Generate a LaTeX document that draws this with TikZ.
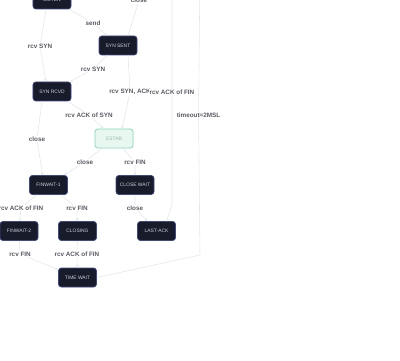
\documentclass[tikz,border=0pt]{standalone}
\usepackage{fontspec}
\setmainfont{Liberation Sans}
\usetikzlibrary{arrows.meta,positioning}
\definecolor{stNavy}{RGB}{24,28,42}
\definecolor{stRim}{RGB}{62,72,140}
\definecolor{stText}{RGB}{205,208,218}
\definecolor{estFill}{RGB}{232,248,241}
\definecolor{estRim}{RGB}{128,214,178}
\definecolor{estText}{RGB}{150,186,172}
\definecolor{connG}{RGB}{226,229,234}
\definecolor{lblG}{RGB}{90,90,100}

\begin{document}
\begin{tikzpicture}[x=0.25mm,y=-0.25mm,
  stbox/.style={draw=stRim, fill=stNavy, line width=0.5pt, rounded corners=2pt,
    minimum width=9.5mm, minimum height=4.75mm, inner sep=0pt, text=stText,
    font=\fontsize{3.5}{4}\selectfont},
  estabbox/.style={stbox, draw=estRim, fill=estFill, text=estText},
  conn/.style={draw=connG, line width=0.4pt, -{Stealth[length=2pt,width=2pt]}},
  lbl/.style={fill=white, inner sep=0.4pt, text=lblG, font=\fontsize{4.5}{5}\selectfont\bfseries}]

  % frame of the picture (pixel units, y pointing down)
  \useasboundingbox (0,0) rectangle (400,361);
  \clip (0,0) rectangle (400,361);

  % states
  \node[stbox] (listen) at (52,-0.5) {LISTEN};
  \node[stbox] (synsent) at (118,45.5) {SYN SENT};
  \node[stbox] (synrcvd) at (52,91.5) {SYN RCVD};
  \node[estabbox] (estab) at (114,138.5) {ESTAB};
  \node[stbox] (fw1) at (48.5,185) {FINWAIT-1};
  \node[stbox] (closewait) at (135,185) {CLOSE WAIT};
  \node[stbox] (fw2) at (19,231) {FINWAIT-2};
  \node[stbox] (closing) at (77.5,231) {CLOSING};
  \node[stbox] (lastack) at (156.5,231) {LAST-ACK};
  \node[stbox] (timewait) at (77.5,277.5) {TIME WAIT};

  % ends that leave the picture at the top
  \coordinate (upA) at (139,-30);
  \coordinate (upB) at (172,-30);
  \coordinate (upC) at (200,-30);

  % transition labels
  \node[lbl] (lSend) at (93,23) {send};
  \node[lbl] (lRcvSynA) at (40,46) {rcv SYN};
  \node[lbl] (lRcvSynB) at (93,69) {rcv SYN};
  \node[lbl] (lCloseA) at (139,0.5) {close};
  \node[lbl] (lSynAck) at (130,92) {rcv SYN, ACK};
  \node[lbl] (lAckFinA) at (172,92) {rcv ACK of FIN};
  \node[lbl] (lTimeout) at (198.5,115) {timeout=2MSL};
  \node[lbl] (lAckSyn) at (89,115) {rcv ACK of SYN};
  \node[lbl] (lCloseB) at (37,139) {close};
  \node[lbl] (lCloseC) at (85,162) {close};
  \node[lbl] (lRcvFinA) at (135,162) {rcv FIN};
  \node[lbl] (lAckFinB) at (21,208) {rcv ACK of FIN};
  \node[lbl] (lRcvFinB) at (77,208) {rcv FIN};
  \node[lbl] (lCloseD) at (135,208) {close};
  \node[lbl] (lRcvFinC) at (20,254) {rcv FIN};
  \node[lbl] (lAckFinC) at (77,254) {rcv ACK of FIN};

  % transitions
  \draw[conn] (listen) -- (lSend) -- (synsent);
  \draw[conn] ([xshift=-1.5mm]listen.south) -- (lRcvSynA) -- ([xshift=-1.5mm]synrcvd.north);
  \draw[conn] ([xshift=2.5mm]synsent.north) -- (lCloseA) -- (upA);
  \draw[conn] (synsent) -- (lRcvSynB) -- (synrcvd);
  \draw[conn] ([xshift=2.5mm]synsent.south) -- (lSynAck) -- ([xshift=2mm]estab.north);
  \draw[conn] ([xshift=2.5mm]lastack.north) -- (172,205) -- (lAckFinA) -- (upB);
  \draw[conn] (timewait.east) -- (200,255) -- (lTimeout) -- (upC);
  \draw[conn] (synrcvd) -- (lAckSyn) -- (estab);
  \draw[conn] ([xshift=-2.5mm]synrcvd.south) -- (lCloseB) -- ([xshift=-1.5mm]fw1.north);
  \draw[conn] (estab) -- (lCloseC) -- (fw1);
  \draw[conn] (estab) -- (lRcvFinA) -- (closewait);
  \draw[conn] (fw1) -- (lAckFinB) -- (fw2);
  \draw[conn] (fw1) -- (lRcvFinB) -- (closing);
  \draw[conn] (closewait) -- (lCloseD) -- (lastack);
  \draw[conn] (fw2) -- (lRcvFinC) -- (timewait);
  \draw[conn] (closing) -- (lAckFinC) -- (timewait);
\end{tikzpicture}
\end{document}
